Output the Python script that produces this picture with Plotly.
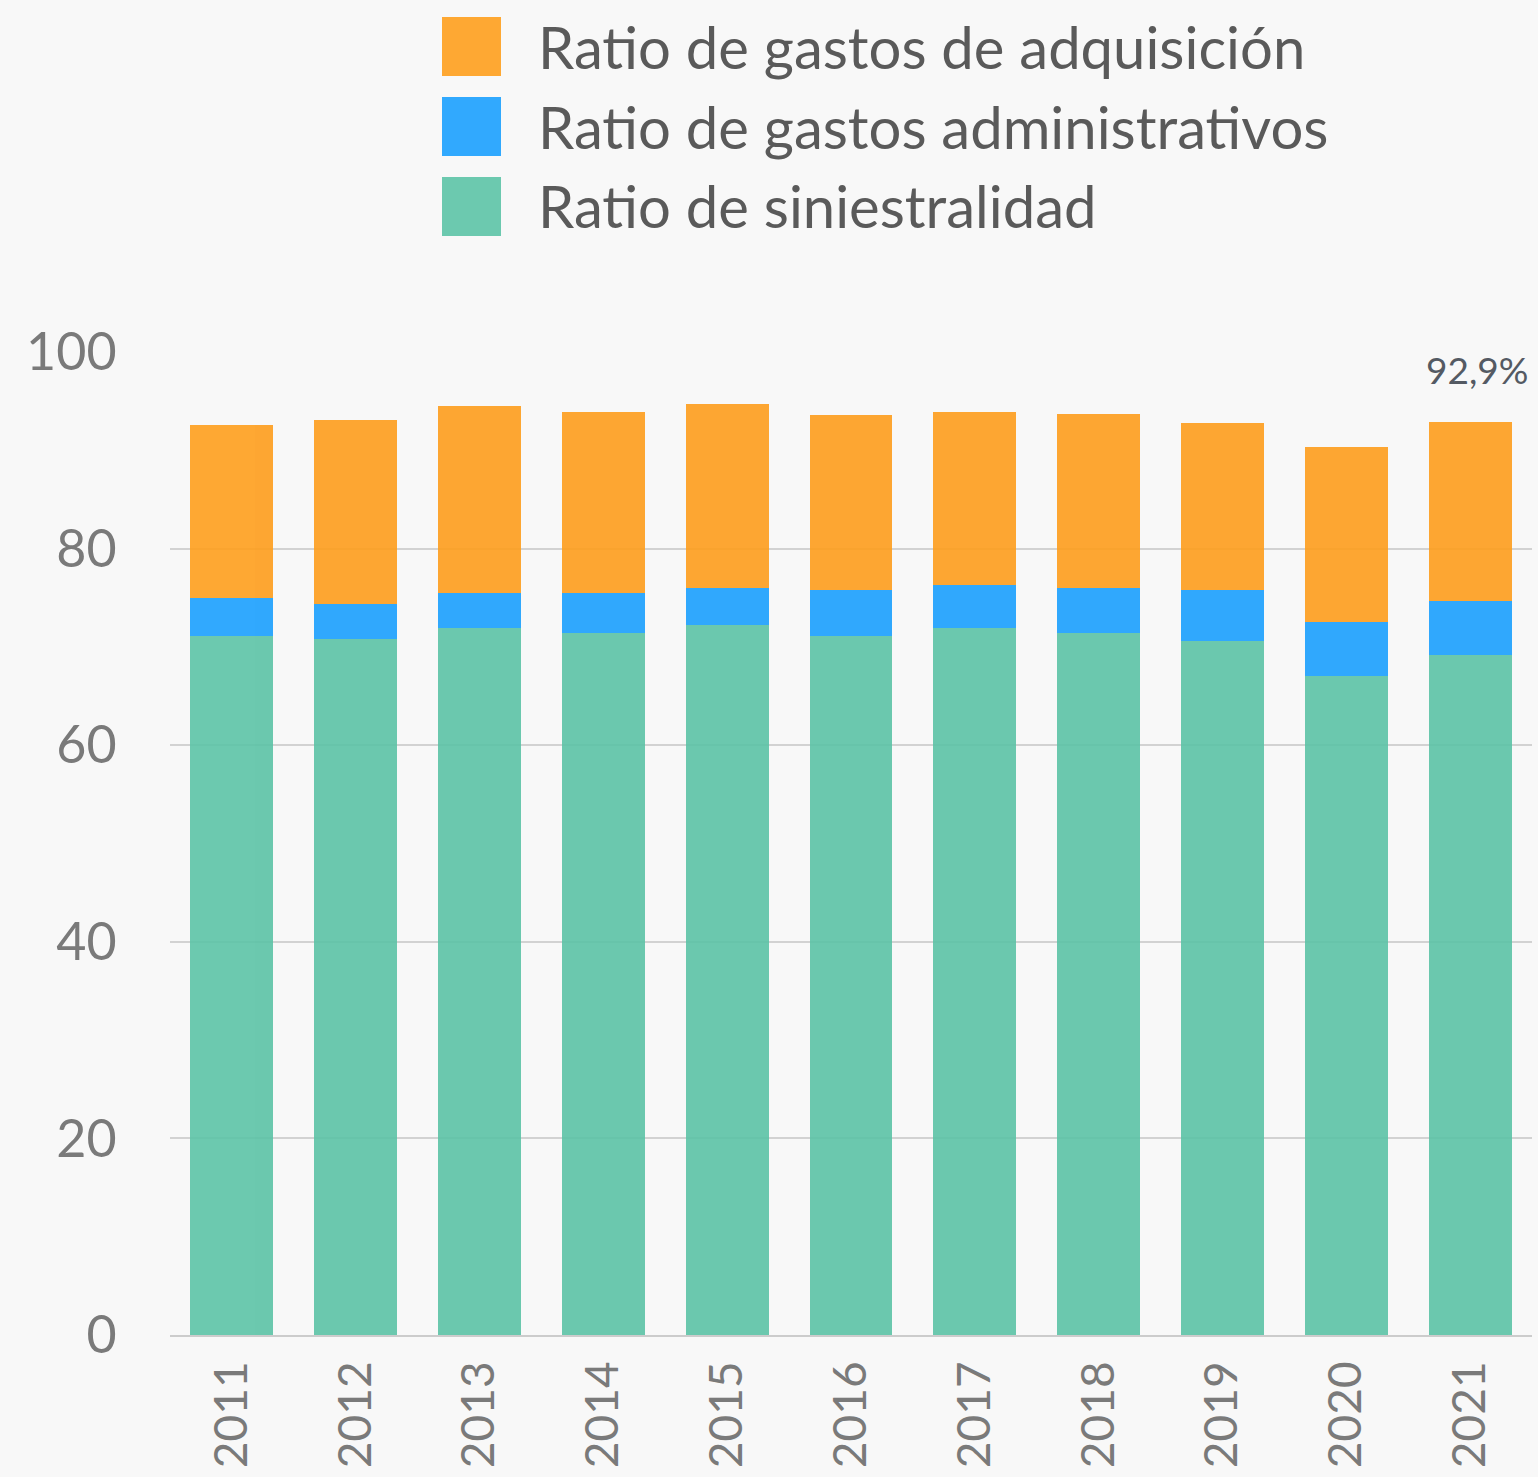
import plotly.graph_objects as go

years = ["2011", "2012", "2013", "2014", "2015", "2016", "2017", "2018", "2019", "2020", "2021"]
siniestralidad = [71.1, 70.8, 71.9, 71.4, 72.2, 71.1, 71.9, 71.4, 70.6, 67.0, 69.2]
administrativos = [3.9, 3.6, 3.6, 4.1, 3.8, 4.7, 4.4, 4.6, 5.2, 5.5, 5.5]
adquisicion = [17.6, 18.7, 19.0, 18.4, 18.7, 17.8, 17.6, 17.7, 17.0, 17.8, 18.2]
series_names = ["Ratio de gastos de adquisición", "Ratio de gastos administrativos", "Ratio de siniestralidad"]
last_total_label = "92,9%"
y_ticks = [0, 20, 40, 60, 80, 100]

COL_GREEN = "rgb(92,195,166)"
COL_BLUE = "rgb(27,160,254)"
COL_ORANGE = "rgb(254,158,29)"
BG = "#f8f8f8"
FONT = "Lato, 'Open Sans', sans-serif"

W, H = 1538, 1477
ML, MR, MT, MB = 170, 6, 352, 142
PW = W - ML - MR
PH = H - MT - MB

fig = go.Figure()
for name, vals, col in [
    (series_names[2], siniestralidad, COL_GREEN),
    (series_names[1], administrativos, COL_BLUE),
    (series_names[0], adquisicion, COL_ORANGE),
]:
    fig.add_trace(go.Bar(x=years, y=vals, name=name, marker=dict(color=col, line=dict(width=0)),
                         opacity=0.9, showlegend=False))

totals = [a + b + c for a, b, c in zip(siniestralidad, administrativos, adquisicion)]

annotations = [
    dict(x=len(years) - 1, y=totals[-1], xref="x", yref="y", text=last_total_label, showarrow=False,
         xanchor="center", yanchor="bottom", yshift=28, xshift=7,
         font=dict(family=FONT, size=37, color="#545a63"))
]

def px_x(p):
    return (p - ML) / PW

def px_y(p):
    return (H - MB - p) / PH

shapes = []
legend_colors = [COL_ORANGE, COL_BLUE, COL_GREEN]
for i, (nm, col) in enumerate(zip(series_names, legend_colors)):
    top = 17 + 80 * i
    shapes.append(dict(type="rect", xref="paper", yref="paper",
                       x0=px_x(442), x1=px_x(501), y0=px_y(top + 59), y1=px_y(top),
                       fillcolor=col, opacity=0.9, line=dict(width=0)))
    annotations.append(dict(x=px_x(536), y=px_y(top + 29), xref="paper", yref="paper",
                            text=nm, showarrow=False, xanchor="left", yanchor="middle",
                            font=dict(family=FONT, size=58, color="#5a5a5a")))

fig.update_layout(
    width=W, height=H,
    margin=dict(l=ML, r=MR, t=MT, b=MB, pad=0, autoexpand=False),
    paper_bgcolor=BG, plot_bgcolor=BG,
    barmode="stack", bargap=0.33,
    showlegend=False,
    shapes=shapes,
    annotations=annotations,
    font=dict(family=FONT, color="#7a7a7a"),
)
fig.update_yaxes(range=[0, 100], tickvals=y_ticks, ticktext=[str(v) for v in y_ticks],
                 showgrid=True, gridcolor="#d2d2d2", gridwidth=2, zeroline=False,
                 showline=False, tickfont=dict(family=FONT, size=52, color="#7a7a7a"),
                 ticks="outside", ticklen=42, tickcolor="rgba(0,0,0,0)", automargin=False)
fig.update_xaxes(type="category", categoryorder="array", categoryarray=years,
                 range=[-0.5, len(years) - 0.5], tickangle=-90,
                 showline=True, linecolor="#cccccc", linewidth=2,
                 tickfont=dict(family=FONT, size=46, color="#7a7a7a"),
                 ticks="outside", ticklen=6, tickcolor="rgba(0,0,0,0)", showgrid=False,
                 automargin=False)

fig.write_html("out.html", config={"displayModeBar": False},
               post_script="document.body.style.margin='0';document.body.style.background='#f8f8f8';")
